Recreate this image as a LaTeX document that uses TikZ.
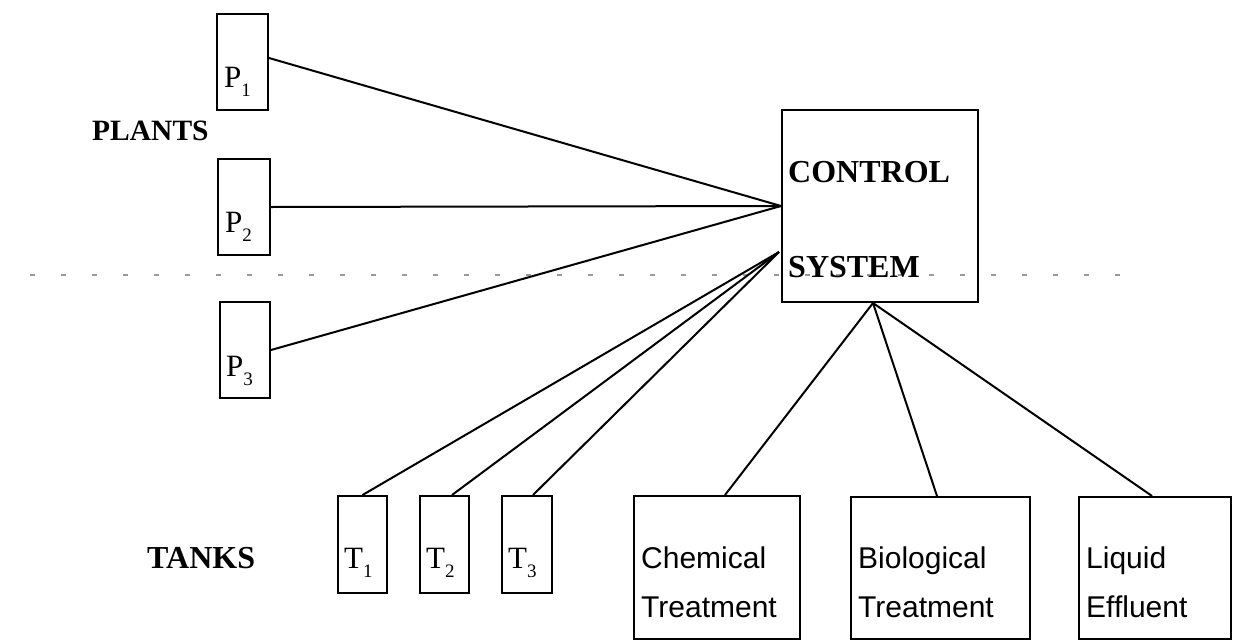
\documentclass[tikz,border=0pt]{standalone}
\usepackage{fontspec}
\setmainfont{Liberation Serif}
\newfontfamily\sansf{Liberation Sans}
\usetikzlibrary{calc}
\begin{document}
\begin{tikzpicture}[x=1pt,y=-1pt,
  box/.style={draw, line width=2pt, inner sep=0pt},
  conn/.style={line width=2pt},
  plbl/.style={font=\fontsize{31}{36}\selectfont, inner sep=0pt, anchor=base west},
  blbl/.style={font=\bfseries\fontsize{32}{37}\selectfont, inner sep=0pt, anchor=base west},
  slbl/.style={font=\sansf\fontsize{30}{35}\selectfont, inner sep=0pt, anchor=base west},
  sepline/.style={line width=1.2pt, black!40, dash pattern=on 5pt off 26pt}
]
\useasboundingbox (0,0) rectangle (1233,640);
\newcommand{\sbs}[1]{\raisebox{-0.3em}{\fontsize{19}{22}\selectfont #1}}

% separation line
\coordinate (sepL) at (30,275);
\coordinate (sepR) at (1125,275);
\draw[sepline] (sepL) -- (sepR);

% plants
\node[box, minimum width=51pt, minimum height=96pt] (P1) at (242.5,62) {};
\node[box, minimum width=52pt, minimum height=96pt] (P2) at (244,207) {};
\node[box, minimum width=50pt, minimum height=96pt] (P3) at (245,350) {};
\node[plbl] (p1t) at (224,87) {P\sbs{1}};
\node[plbl] (p2t) at (225,232) {P\sbs{2}};
\node[plbl] (p3t) at (226,376) {P\sbs{3}};
\node[blbl, font=\bfseries\fontsize{29.5}{35}\selectfont] (plants) at (92,140) {PLANTS};

% control
\node[box, minimum width=196pt, minimum height=192pt] (ctrl) at (880,206) {};
\node[blbl] (ct1) at (788,182) {CONTROL};
\node[blbl] (ct2) at (788,277) {SYSTEM};

% tanks
\node[box, minimum width=49pt, minimum height=97pt] (T1) at (362.5,544.5) {};
\node[box, minimum width=49pt, minimum height=97pt] (T2) at (444.5,544.5) {};
\node[box, minimum width=50pt, minimum height=97pt] (T3) at (527,544.5) {};
\node[plbl] (t1t) at (344,568) {T\sbs{1}};
\node[plbl] (t2t) at (426,568) {T\sbs{2}};
\node[plbl] (t3t) at (508,568) {T\sbs{3}};
\node[blbl] (tanks) at (147,568) {TANKS};

% treatment
\node[box, minimum width=166pt, minimum height=143pt] (chem) at (717,567.5) {};
\node[box, minimum width=179pt, minimum height=142pt] (bio) at (940.5,568) {};
\node[box, minimum width=152pt, minimum height=142pt] (liq) at (1155,568) {};
\node[slbl] (c1) at (641,568) {Chemical};
\node[slbl] (c2) at (641,617) {Treatment};
\node[slbl] (b1) at (858,568) {Biological};
\node[slbl] (b2) at (858,617) {Treatment};
\node[slbl] (l1) at (1086,568) {Liquid};
\node[slbl] (l2) at (1086,617) {Effluent};

% connectors
\coordinate (A) at (ctrl.west);
\coordinate (B) at ($(ctrl.west)+(-2,46)$);
\coordinate (C) at ($(ctrl.south)+(-7,0)$);
\draw[conn] ($(P1.east)+(0,-4)$) -- (A);
\draw[conn] (P2.east) -- (A);
\draw[conn] (P3.east) -- (A);
\draw[conn] (T1.north) -- (B);
\draw[conn] ($(T2.north)+(7.5,0)$) -- (B);
\draw[conn] ($(T3.north)+(6,0)$) -- (B);
\draw[conn] (C) -- ($(chem.north)+(8,0)$);
\draw[conn] (C) -- ($(bio.north)+(-3.5,0)$);
\draw[conn] (C) -- ($(liq.north)+(-3,0)$);
\end{tikzpicture}
\end{document}
